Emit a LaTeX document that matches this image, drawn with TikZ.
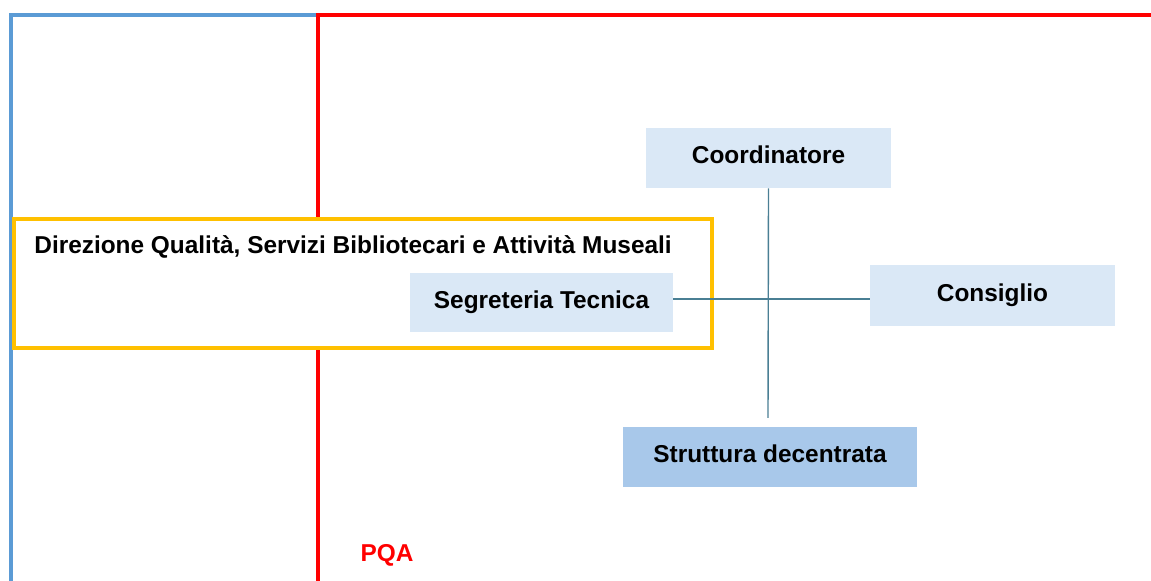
\documentclass[tikz,border=0pt]{standalone}
\usepackage{fontspec}
\setmainfont{Liberation Sans}
\definecolor{bluel}{HTML}{5B9BD5}
\definecolor{redl}{HTML}{FF0000}
\definecolor{yel}{HTML}{FFC000}
\definecolor{boxfill}{HTML}{DAE8F6}
\definecolor{boxdark}{HTML}{A8C8EA}
\definecolor{conn}{HTML}{4A7F94}
\begin{document}
\begin{tikzpicture}[x=0.5pt,y=-0.5pt,
  lbl/.style={font=\bfseries\fontsize{12.2}{14}\selectfont},
  box/.style={lbl, fill=boxfill, inner sep=0pt, text height=9pt, text depth=3pt},
  conline/.style={draw=conn, line width=0.7pt}]
\useasboundingbox (0,0) rectangle (1151,581);
\fill[white] (0,0) rectangle (1151,581);
\draw[bluel, line width=2pt] (11,583) -- (11,15) -- (318,15);
\draw[redl, line width=2pt] (318,583) -- (318,15) -- (1153,15);
\node[draw=yel, fill=white, line width=2pt, minimum width=349pt, minimum height=64.5pt, inner sep=0pt] (dir) at (363,283.5) {};
\node[lbl, anchor=base west, inner sep=0pt] (dirt) at (34,254) {Direzione Qualità, Servizi Bibliotecari e Attività Museali};
\node[box, minimum width=131.5pt, minimum height=29.5pt] (seg) at (541.5,302.5) {Segreteria Tecnica};
\node[box, minimum width=122.5pt, minimum height=30pt] (coord) at (768.5,158) {Coordinatore};
\node[box, minimum width=122.5pt, minimum height=30.5pt] (cons) at (992.5,295.5) {Consiglio};
\node[box, fill=boxdark, minimum width=147pt, minimum height=30pt] (strut) at (770,457) {Struttura decentrata};
\coordinate (vend) at (768,418);
\draw[conline] (seg.east |- 0,299) -- (cons.west |- 0,299);
\draw[conline] (coord.south) -- (vend);
\node[lbl, text=redl, anchor=base, inner sep=0pt] (pqa) at (387,562) {PQA};
\end{tikzpicture}
\end{document}
